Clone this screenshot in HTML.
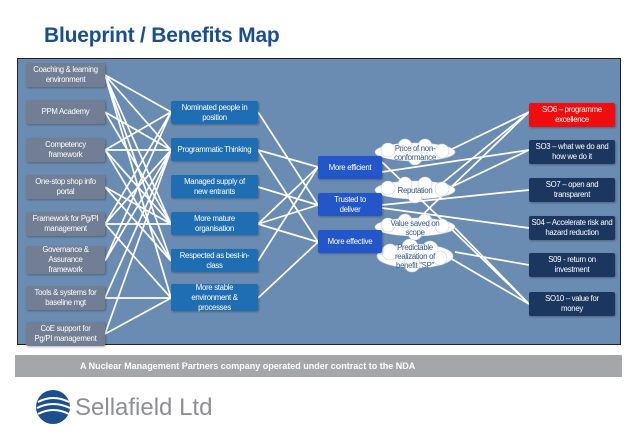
<!DOCTYPE html>
<html><head><meta charset="utf-8"><style>
body{margin:0;width:638px;height:442px;background:#fff;overflow:hidden;font-family:"Liberation Sans",sans-serif;position:relative}
.t{position:absolute;left:44px;top:24px;font-size:21px;font-weight:bold;color:#1a4f8c;letter-spacing:-0.2px}
.panel{position:absolute;left:17px;top:58px;width:602px;height:285px;background:#6b8cb2;border:1px solid #222}
svg{position:absolute;left:0;top:0}
.b{position:absolute;display:flex;align-items:center;justify-content:center;text-align:center;font-size:7.8px;line-height:10px;letter-spacing:-0.3px;color:#fff;border-radius:2px;box-shadow:1px 1px 2px rgba(0,0,0,.3);padding:0 2px;box-sizing:border-box}
.l{background:#717e93;left:26px;width:79px;height:24px}
.m{background:#1f6db3;left:171px;width:87px;height:23px}
.r{background:#2356c8;left:318px;width:64px;height:23px}
.s{background:#1b365f;left:529px;width:86px;height:24px}
.c{position:absolute;font-size:7.8px;line-height:9px;letter-spacing:-0.3px;color:#3a5a8a;text-align:center;width:56px}
.g{position:absolute;left:15px;top:355px;width:607px;height:22px;background:#a5a6a8;color:#fff;font-size:9px;font-weight:bold;line-height:22px}
</style></head><body>
<div class="t">Blueprint / Benefits Map</div>
<div class="panel"></div>
<svg width="638" height="442">
<g stroke="#fff" stroke-width="1.7" fill="none">
<path d="M105 75L171 112M105 75L171 150M105 75L171 224M105 75L171 261M105 112L171 150M105 112L171 224M105 150L171 112M105 150L171 150M105 150L171 224M105 150L171 261M105 187L171 224M105 187L171 261M105 224L171 112M105 224L171 150M105 224L171 224M105 224L171 298M105 261L171 150M105 261L171 112M105 298L171 150M105 298L171 298M105 334L171 150M105 334L171 298M105 75L171 298"/>
<path d="M258 112L318 205M258 150L318 167M258 150L318 242M258 187L318 205M258 224L318 167M258 224L318 205M258 224L318 242M258 261L318 167M258 298L318 242"/>
<path d="M450 150L529 112M440 185L529 112M445 190L529 150M382 172L529 150M382 205L529 190M382 208L529 228M415 222L529 112M382 162L529 304M455 228L529 304M455 252L529 265M450 258L529 304"/>
</g>
<g fill="#fff" stroke="#c8d2e0" stroke-width="0.6">
<ellipse cx="415" cy="152" rx="40" ry="9"/><circle cx="388" cy="150" r="7"/><circle cx="405" cy="146" r="7"/><circle cx="425" cy="146" r="7"/><circle cx="442" cy="151" r="7"/><circle cx="415" cy="158" r="7"/>
<ellipse cx="415" cy="190" rx="40" ry="9"/><circle cx="388" cy="188" r="7"/><circle cx="405" cy="184" r="7"/><circle cx="425" cy="184" r="7"/><circle cx="442" cy="189" r="7"/><circle cx="415" cy="196" r="7"/>
<ellipse cx="415" cy="227" rx="40" ry="9"/><circle cx="388" cy="225" r="7"/><circle cx="405" cy="221" r="7"/><circle cx="425" cy="221" r="7"/><circle cx="442" cy="226" r="7"/><circle cx="415" cy="233" r="7"/>
<ellipse cx="415" cy="256" rx="38" ry="12"/><circle cx="390" cy="252" r="8"/><circle cx="410" cy="247" r="8"/><circle cx="430" cy="249" r="8"/><circle cx="440" cy="258" r="7"/><circle cx="412" cy="264" r="8"/>
</g>
</svg>
<div class="b l" style="top:63px">Coaching &amp; learning environment</div>
<div class="b l" style="top:100px">PPM Academy</div>
<div class="b l" style="top:138px">Competency framework</div>
<div class="b l" style="top:175px">One-stop shop info portal</div>
<div class="b l" style="top:212px">Framework for Pg/PI management</div>
<div class="b l" style="top:246px;height:28px;padding:0 12px">Governance &amp; Assurance framework</div>
<div class="b l" style="top:286px">Tools &amp; systems for baseline mgt</div>
<div class="b l" style="top:322px;padding:0 8px">CoE support for Pg/PI management</div>
<div class="b m" style="top:101px">Nominated people in position</div>
<div class="b m" style="top:138px">Programmatic Thinking</div>
<div class="b m" style="top:175px;padding:0 10px">Managed supply of new entrants</div>
<div class="b m" style="top:212px;padding:0 14px">More mature organisation</div>
<div class="b m" style="top:249px;padding:0 6px">Respected as best-in-class</div>
<div class="b m" style="top:284px;height:27px;padding:0 16px">More stable environment &amp; processes</div>
<div class="b r" style="top:156px">More efficient</div>
<div class="b r" style="top:193px;padding:0 10px">Trusted to deliver</div>
<div class="b r" style="top:230px">More effective</div>
<div class="c" style="left:387px;top:144px">Price of non-conformance</div>
<div class="c" style="left:387px;top:186px">Reputation</div>
<div class="c" style="left:387px;top:219px">Value saved on scope</div>
<div class="c" style="left:387px;top:243px">Predictable realization of benefit "SP"</div>
<div class="b s" style="top:103px;background:#f00d0d;padding:0 10px">SO6 – programme excellence</div>
<div class="b s" style="top:140px">SO3 – what we do and how we do it</div>
<div class="b s" style="top:178px;padding:0 12px">SO7 – open and transparent</div>
<div class="b s" style="top:216px">S04 – Accelerate risk and hazard reduction</div>
<div class="b s" style="top:253px;padding:0 14px">S09 - return on investment</div>
<div class="b s" style="top:292px;padding:0 14px">SO10 – value for money</div>
<div class="g"><span style="margin-left:65px">A Nuclear Management Partners company operated under contract to the NDA</span></div>
<svg width="638" height="442" style="pointer-events:none">
<circle cx="53" cy="407" r="17" fill="#1d4f8f"/>
<path d="M38 402Q53 394 69 402M37 408Q53 400 70 408M38 414Q53 406 69 414" stroke="#fff" stroke-width="2" fill="none"/>
</svg>
<div style="position:absolute;left:75px;top:394px;font-size:24px;color:#8e8f92">Sellafield Ltd</div>
</body></html>
